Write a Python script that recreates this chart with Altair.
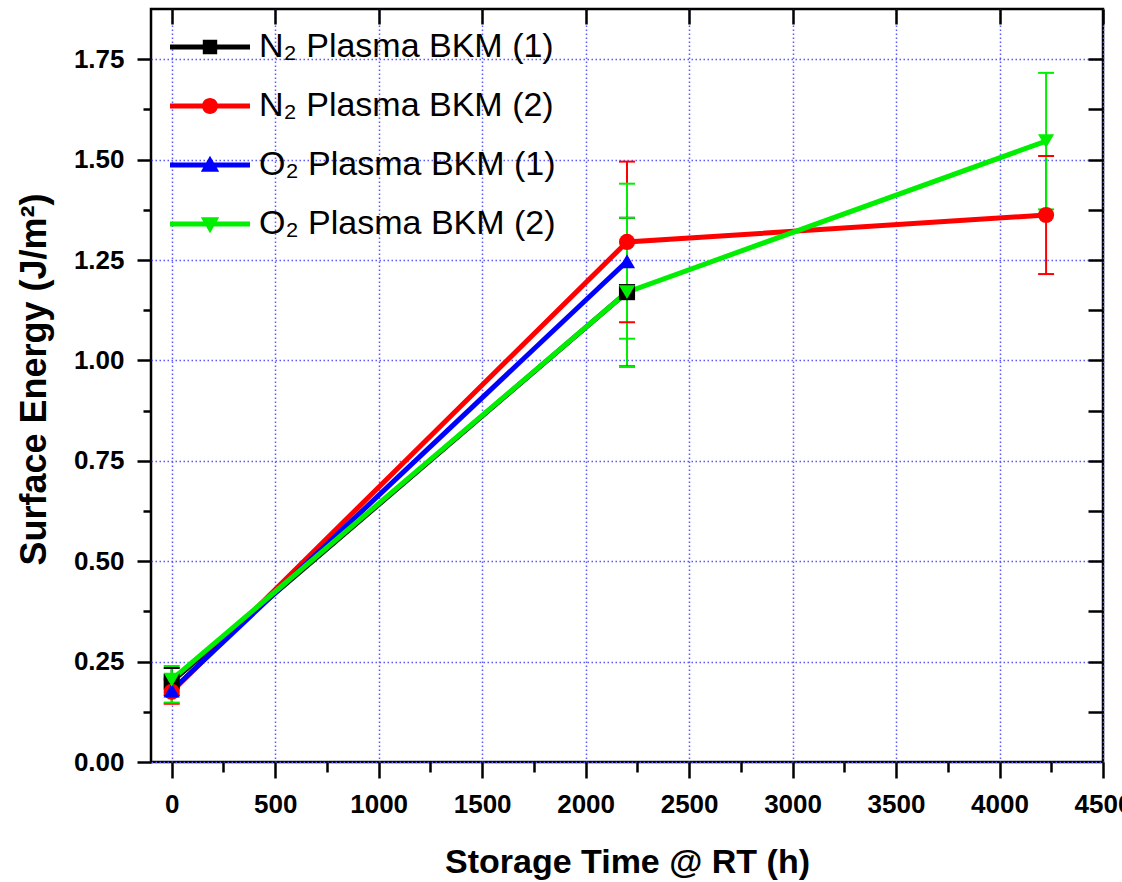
import altair as alt
import pandas as pd

# ---------------- data ----------------
series = ["N₂ Plasma BKM (1)", "N₂ Plasma BKM (2)", "O₂ Plasma BKM (1)", "O₂ Plasma BKM (2)"]
time_h = [0, 2200, 4225]

n2_bkm1 = [0.2, 1.17, None]
n2_bkm1_err = [0.034, 0.185, None]
n2_bkm2 = [0.175, 1.295, 1.362]
n2_bkm2_err = [0.03, 0.20, 0.147]
o2_bkm1 = [0.178, 1.247, None]
o2_bkm1_err = [0.03, 0.193, None]
o2_bkm2 = [0.205, 1.17, 1.546]
o2_bkm2_err = [0.034, 0.185, 0.17]

values = [n2_bkm1, n2_bkm2, o2_bkm1, o2_bkm2]
errors = [n2_bkm1_err, n2_bkm2_err, o2_bkm1_err, o2_bkm2_err]

colors = ["#000000", "#ff0000", "#0000ff", "#00ee00"]
err_colors = ["#000000", "#ff0000", "#00ee00", "#00ee00"]
shapes = ["square", "circle", "triangle-up", "triangle-down"]

x_major = [0, 500, 1000, 1500, 2000, 2500, 3000, 3500, 4000, 4500]
x_minor = [250, 750, 1250, 1750, 2250, 2750, 3250, 3750, 4250]
y_major = [0.0, 0.25, 0.5, 0.75, 1.0, 1.25, 1.5, 1.75]
y_minor = [0.125, 0.375, 0.625, 0.875, 1.125, 1.375, 1.625]
y_right = [0.125, 0.25, 0.375, 0.5, 0.625, 0.75, 0.875, 1.0, 1.125, 1.25, 1.375, 1.5, 1.625, 1.75]

# legend symbols: line segment + marker (unit coordinates)
line_seg = "M-1,-0.32H9V0.32H-1Z"
legend_paths = [
    line_seg + "M3.1,-0.9H4.9V0.9H3.1Z",
    line_seg + "M3,0A1,1 0 1,1 5,0A1,1 0 1,1 3,0Z",
    line_seg + "M4,-1.15L5.15,0.85L2.85,0.85Z",
    line_seg + "M2.85,-0.85L5.15,-0.85L4,1.15Z",
]

rows = []
for s, vals, errs in zip(series, values, errors):
    for t, v, e in zip(time_h, vals, errs):
        if v is None:
            continue
        rows.append({"series": s, "marker": s, "time": t, "value": v, "lo": v - e, "hi": v + e})
df = pd.DataFrame(rows)

FONT = "Liberation Sans"
GRID_COLOR = "#5a5aff"

xscale = alt.Scale(domain=[-100, 4500], nice=False, zero=False)
yscale = alt.Scale(domain=[0, 1.875], nice=False, zero=False)
color_scale = alt.Scale(domain=series, range=colors)
err_scale = alt.Scale(domain=series, range=err_colors)

common_tick = dict(tickColor="black", tickWidth=2.5, domain=False)

x_axis_major = alt.Axis(
    orient="bottom", values=x_major, format="d", tickSize=16, labelPadding=13,
    labelFont=FONT, labelFontSize=26, labelFontWeight="bold", labelColor="black",
    labelFlush=False, labelOverlap=False,
    grid=True, gridColor=GRID_COLOR, gridDash=[1.5, 2.5], gridWidth=1.5,
    title="Storage Time @ RT (h)", titleFont=FONT, titleFontSize=34, titleFontWeight="bold",
    titleColor="black", titleX=476, titleY=83, titleBaseline="top", titleAlign="center",
    **common_tick,
)
y_axis_major = alt.Axis(
    orient="left", values=y_major, format=".2f", tickSize=14, labelPadding=13,
    labelFont=FONT, labelFontSize=26, labelFontWeight="bold", labelColor="black",
    labelFlush=False, labelOverlap=False,
    grid=True, gridColor=GRID_COLOR, gridDash=[1.5, 2.5], gridWidth=1.5,
    title="Surface Energy (J/m²)", titleFont=FONT, titleFontSize=36, titleFontWeight="bold",
    titleColor="black", titleX=-98, titleY=370, titleAngle=270, titleBaseline="bottom",
    titleAlign="center",
    **common_tick,
)
x_axis_minor = alt.Axis(orient="bottom", values=x_minor, tickSize=10, labels=False,
                        grid=False, title=None, **common_tick)
y_axis_minor = alt.Axis(orient="left", values=y_minor, tickSize=8, labels=False,
                        grid=False, title=None, **common_tick)
x_axis_top = alt.Axis(orient="top", values=x_major, tickSize=15, offset=-15, labels=False,
                      grid=False, title=None, **common_tick)
y_axis_right = alt.Axis(orient="right", values=y_right, tickSize=15, offset=-15, labels=False,
                        grid=False, title=None, **common_tick)

base = alt.Chart(df)

lines = base.mark_line(strokeWidth=5).encode(
    x=alt.X("time:Q", scale=xscale, axis=x_axis_major),
    y=alt.Y("value:Q", scale=yscale, axis=y_axis_major),
    color=alt.Color("series:N", scale=color_scale),
    order="time:Q",
)

err_rules = base.mark_rule(strokeWidth=2).encode(
    x=alt.X("time:Q", scale=xscale, axis=x_axis_minor),
    y=alt.Y("lo:Q", scale=yscale, axis=y_axis_minor),
    y2="hi:Q",
    stroke=alt.Stroke("series:N", scale=err_scale, legend=None),
)

cap_lo = base.mark_tick(orient="horizontal", size=16, thickness=2, opacity=1).encode(
    x=alt.X("time:Q", scale=xscale, axis=None),
    y=alt.Y("lo:Q", scale=yscale, axis=None),
    fill=alt.Fill("series:N", scale=err_scale, legend=None),
)
cap_hi = base.mark_tick(orient="horizontal", size=16, thickness=2, opacity=1).encode(
    x=alt.X("time:Q", scale=xscale, axis=None),
    y=alt.Y("hi:Q", scale=yscale, axis=None),
    fill=alt.Fill("series:N", scale=err_scale, legend=None),
)

shape_signal = "[" + ",".join("'" + p + "'" for p in legend_paths) + "][datum.index]"

points = base.mark_point(filled=True, size=260, opacity=1, strokeWidth=0).encode(
    x=alt.X("time:Q", scale=xscale, axis=x_axis_top),
    y=alt.Y("value:Q", scale=yscale, axis=y_axis_right),
    color=alt.Color(
        "series:N", scale=color_scale,
        legend=alt.Legend(
            orient="none", legendX=10, legendY=21, title=None,
            symbolSize=256, symbolStrokeWidth=0, symbolOpacity=1,
            symbolType=alt.ExprRef(expr=shape_signal),
            symbolFillColor=alt.ExprRef(expr="scale('color', datum.value)"),
            labelFont=FONT, labelFontSize=34, labelColor="black", labelLimit=600,
            labelOffset=64, rowPadding=25, padding=0,
        ),
    ),
    shape=alt.Shape("marker:N", scale=alt.Scale(range=shapes), legend=None),
)

chart = (
    alt.layer(lines, err_rules, cap_lo, cap_hi, points)
    .resolve_axis(x="independent", y="independent")
    .resolve_scale(x="shared", y="shared")
    .properties(
        width=952, height=753,
        autosize=alt.AutoSizeParams(type="none"),
        padding={"left": 151, "top": 9, "right": 19, "bottom": 120},
        background="white",
    )
    .configure_view(stroke="black", strokeWidth=2.5)
)

chart.save("out.html", embed_options={"renderer": "svg", "actions": False})
